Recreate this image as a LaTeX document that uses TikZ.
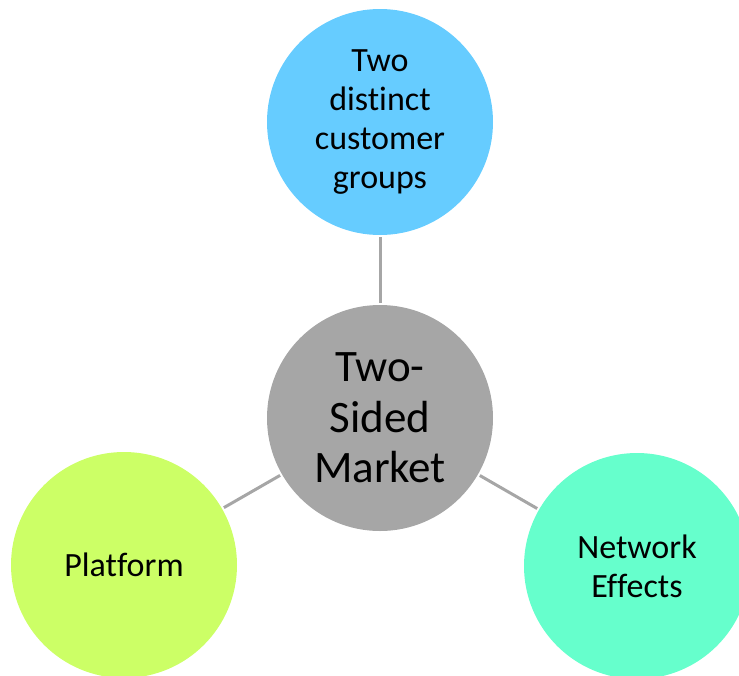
\documentclass[tikz,border=0pt]{standalone}
\usepackage{fontspec}
\setmainfont{Carlito}[Ligatures={NoCommon}]
\definecolor{topc}{HTML}{66CCFF}
\definecolor{midc}{HTML}{A6A6A6}
\definecolor{leftc}{HTML}{CCFF66}
\definecolor{rightc}{HTML}{66FFCC}
\definecolor{linec}{HTML}{A6A6A6}
\begin{document}
\begin{tikzpicture}[x=1pt,y=-1pt,
  bubble/.style={circle,inner sep=0pt,minimum size=226pt,align=center,text=black},
  outertext/.style={font=\fontsize{34}{38.7}\selectfont},
  centertext/.style={font=\fontsize{45}{50.5}\selectfont},
  link/.style={draw=linec,line width=3pt,shorten <=2pt,shorten >=2pt}]
\useasboundingbox (0,0) rectangle (739,675);
\path (380,418) node[bubble,fill=midc,centertext] (mid) {Two-\\Sided\\Market};
\path (380,122) node[bubble,fill=topc,outertext] (top) {Two\\distinct\\customer\\groups};
\path (124,565) node[bubble,fill=leftc,outertext] (left) {Platform};
\path (637,566) node[bubble,fill=rightc,outertext] (right) {Network\\Effects};
\draw[link] (top) -- (mid);
\draw[link] (left) -- (mid);
\draw[link] (right) -- (mid);
\end{tikzpicture}
\end{document}
